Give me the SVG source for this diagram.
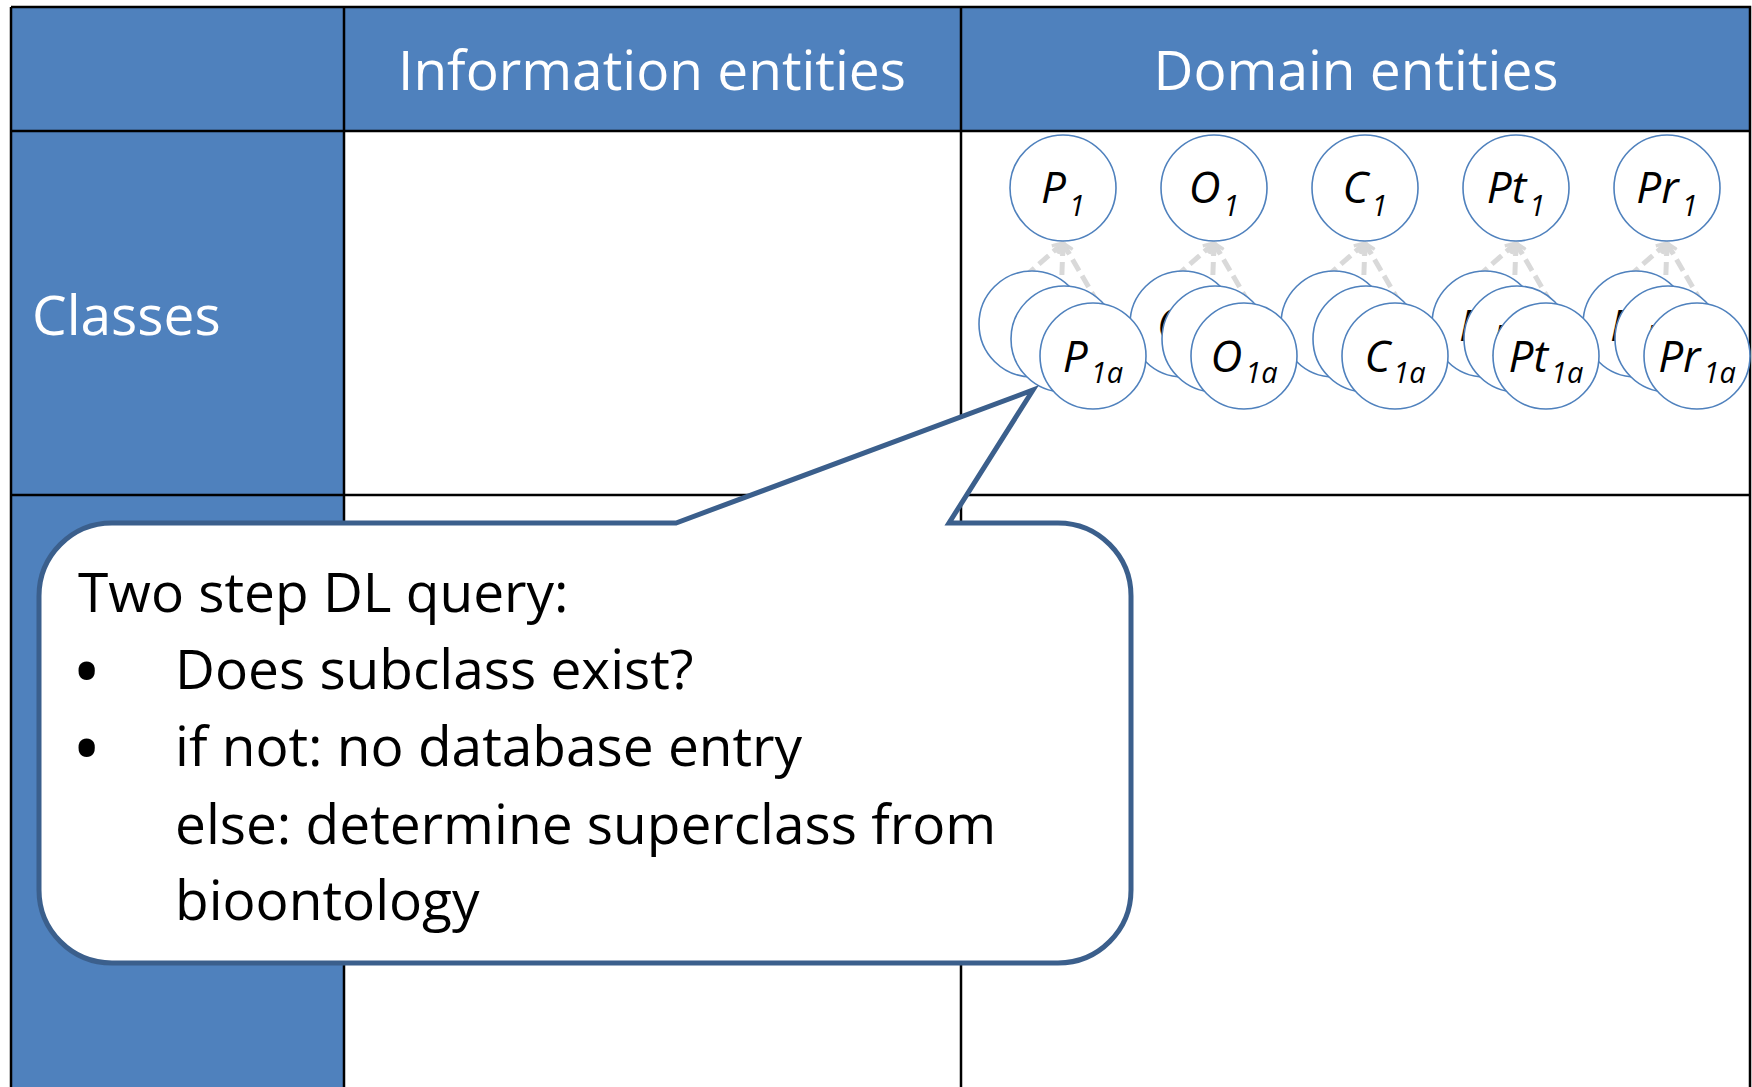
<svg xmlns="http://www.w3.org/2000/svg" width="1752" height="1087" viewBox="0 0 1752 1087">
<style>
.hdr{font-family:"Open Sans","Noto Sans",sans-serif;font-size:55px;fill:#ffffff}
.tl{stroke:#000;stroke-width:2.5;fill:none}
.c{fill:#fff;stroke:#4f81bd;stroke-width:1.6}
.lbl{font-family:"Open Sans","Noto Sans",sans-serif;font-style:italic;font-size:44px;fill:#000;text-anchor:middle}
.lbls{font-family:"Open Sans","Noto Sans",sans-serif;font-style:italic;font-size:44px;fill:#000}
.sub{font-size:29px}
.dash{stroke:#d9d9d9;stroke-width:5;stroke-dasharray:13 6;fill:none;marker-start:url(#arr)}
.ct{font-family:"Open Sans","Noto Sans",sans-serif;font-size:55px;fill:#000}
.bul{font-family:"Open Sans","Noto Sans",sans-serif;font-size:78px;fill:#000}
</style>
<defs>
<marker id="arr" viewBox="0 0 10 10" refX="1" refY="5" markerWidth="13" markerHeight="13" markerUnits="userSpaceOnUse" orient="auto">
<path d="M9,1 L1,5 L9,9" fill="none" stroke="#d9d9d9" stroke-width="2.5"/>
</marker>
</defs>
<rect width="1752" height="1087" fill="#fff"/>
<g id="table">
<rect x="11" y="7" width="1739" height="124" fill="#4f81bd"/>
<rect x="11" y="131" width="333" height="960" fill="#4f81bd"/>
<path class="tl" d="M11,7 H1750 V1090 M11,7 V1090 M11,131 H1750 M11,495 H1750 M344,7 V1090 M961,7 V1090"/>
<text class="hdr" x="652" y="90" text-anchor="middle">Information entities</text>
<text class="hdr" x="1356" y="90" text-anchor="middle">Domain entities</text>
<text class="hdr" x="32" y="335" font-size="54">Classes</text>
</g>
<g id="connectors">
<line class="dash" x1="1063" y1="243" x2="1023" y2="278"/>
<line class="dash" x1="1063" y1="243" x2="1061" y2="300"/>
<line class="dash" x1="1063" y1="243" x2="1099" y2="305"/>
<line class="dash" x1="1214" y1="243" x2="1174" y2="278"/>
<line class="dash" x1="1214" y1="243" x2="1212" y2="300"/>
<line class="dash" x1="1214" y1="243" x2="1250" y2="305"/>
<line class="dash" x1="1365" y1="243" x2="1325" y2="278"/>
<line class="dash" x1="1365" y1="243" x2="1363" y2="300"/>
<line class="dash" x1="1365" y1="243" x2="1401" y2="305"/>
<line class="dash" x1="1516" y1="243" x2="1476" y2="278"/>
<line class="dash" x1="1516" y1="243" x2="1514" y2="300"/>
<line class="dash" x1="1516" y1="243" x2="1552" y2="305"/>
<line class="dash" x1="1667" y1="243" x2="1627" y2="278"/>
<line class="dash" x1="1667" y1="243" x2="1665" y2="300"/>
<line class="dash" x1="1667" y1="243" x2="1703" y2="305"/>
</g>
<g id="P1"><circle class="c" cx="1063" cy="188" r="53"/><text class="lbl" x="1063" y="203">P<tspan class="sub" dx="3" dy="13">1</tspan></text></g>
<g id="O1"><circle class="c" cx="1214" cy="188" r="53"/><text class="lbl" x="1214" y="203">O<tspan class="sub" dx="3" dy="13">1</tspan></text></g>
<g id="C1"><circle class="c" cx="1365" cy="188" r="53"/><text class="lbl" x="1365" y="203">C<tspan class="sub" dx="3" dy="13">1</tspan></text></g>
<g id="Pt1"><circle class="c" cx="1516" cy="188" r="53"/><text class="lbl" x="1516" y="203">Pt<tspan class="sub" dx="3" dy="13">1</tspan></text></g>
<g id="Pr1"><circle class="c" cx="1667" cy="188" r="53"/><text class="lbl" x="1667" y="203">Pr<tspan class="sub" dx="3" dy="13">1</tspan></text></g>

<g id="Pr1c"><circle class="c" cx="1636" cy="324" r="53"/><text class="lbls" x="1610" y="341">P</text></g>
<g id="Pr1b"><circle class="c" cx="1668" cy="339" r="53"/><text class="lbls" x="1643" y="356">P</text></g>
<g id="Pr1a"><circle class="c" cx="1697" cy="356" r="53"/><text class="lbl" x="1697" y="372">Pr<tspan class="sub" dx="3" dy="11">1a</tspan></text></g>

<g id="Pt1c"><circle class="c" cx="1485" cy="324" r="53"/><text class="lbls" x="1459" y="341">P</text></g>
<g id="Pt1b"><circle class="c" cx="1517" cy="339" r="53"/><text class="lbls" x="1491" y="356">P</text></g>
<g id="Pt1a"><circle class="c" cx="1546" cy="356" r="53"/><text class="lbl" x="1546" y="372">Pt<tspan class="sub" dx="3" dy="11">1a</tspan></text></g>

<g id="C1c"><circle class="c" cx="1334" cy="324" r="53"/></g>
<g id="C1b"><circle class="c" cx="1366" cy="339" r="53"/></g>
<g id="C1a"><circle class="c" cx="1395" cy="356" r="53"/><text class="lbl" x="1395" y="372">C<tspan class="sub" dx="3" dy="11">1a</tspan></text></g>

<g id="O1c"><circle class="c" cx="1183" cy="324" r="53"/><text class="lbls" x="1157" y="340">O</text></g>
<g id="O1b"><circle class="c" cx="1215" cy="339" r="53"/></g>
<g id="O1a"><circle class="c" cx="1244" cy="356" r="53"/><text class="lbl" x="1244" y="372">O<tspan class="sub" dx="3" dy="11">1a</tspan></text></g>

<g id="P1c"><circle class="c" cx="1032" cy="324" r="53"/></g>
<g id="P1b"><circle class="c" cx="1064" cy="339" r="53"/></g>
<g id="P1a"><circle class="c" cx="1093" cy="356" r="53"/><text class="lbl" x="1093" y="372">P<tspan class="sub" dx="3" dy="11">1a</tspan></text></g>

<g id="callout">
<path d="M112,523 H676 L1033,390 L949,523 H1058 A73,73 0 0 1 1131,596 V890 A73,73 0 0 1 1058,963 H112 A73,73 0 0 1 39,890 V596 A73,73 0 0 1 112,523 Z" fill="#fff" stroke="#3b5f8c" stroke-width="5" stroke-linejoin="miter"/>
<text class="ct" x="78" y="612">Two step DL query:</text>
<text class="bul" x="72" y="700">•</text>
<text class="ct" x="175" y="689">Does subclass exist?</text>
<text class="bul" x="72" y="777">•</text>
<text class="ct" x="175" y="766">if not: no database entry</text>
<text class="ct" x="175" y="844">else: determine superclass from</text>
<text class="ct" x="175" y="920">bioontology</text>
</g>
</svg>
